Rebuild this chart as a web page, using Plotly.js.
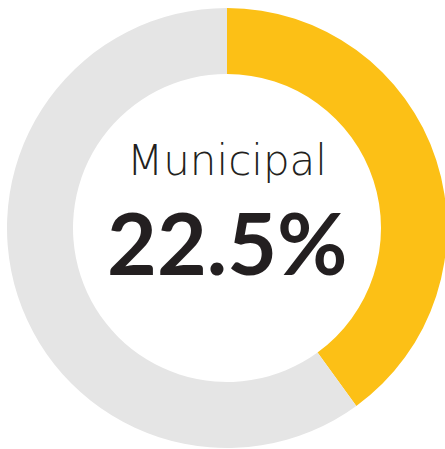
<!DOCTYPE html>
<html>
<head>
<meta charset="utf-8">
<script src="https://cdn.plot.ly/plotly-3.0.1.min.js"></script>
<style>
html,body{margin:0;padding:0;overflow:hidden;background:#fff;}
#chart{width:454px;height:449px;}
</style>
</head>
<body>
<div id="chart"></div>
<script>
var labels = ["Municipal", "Other"];
var values = [40, 60];
var colors = ["#FCC016", "#E5E5E5"];
var centerTitle = "Municipal";
var centerValue = "22.5%";

var W = 454, H = 449;
var mt = 8, mb = 1, ml = 7, mr = 7;
function py(px){ return (H - mb - px) / (H - mt - mb); }

var data = [{
  type: "pie",
  labels: labels,
  values: values,
  hole: 0.7,
  sort: false,
  direction: "clockwise",
  rotation: 0,
  textinfo: "none",
  hoverinfo: "none",
  marker: {colors: colors, line: {width: 0}},
  showlegend: false
}];

var layout = {
  width: W, height: H,
  margin: {l: ml, r: mr, t: mt, b: mb, pad: 0},
  paper_bgcolor: "#fff",
  plot_bgcolor: "#fff",
  showlegend: false,
  annotations: [
    {text: centerTitle, xref: "paper", yref: "paper", x: (227 - ml) / (W - ml - mr), y: py(160),
     xanchor: "center", yanchor: "middle", showarrow: false,
     font: {family: "'DejaVu Sans ExtraLight', 'DejaVu Sans', sans-serif", size: 42, color: "#231F20", weight: 200}},
    {text: centerValue, xref: "paper", yref: "paper", x: (227 - ml) / (W - ml - mr), y: py(241),
     xanchor: "center", yanchor: "middle", showarrow: false,
     font: {family: "Lato, 'Open Sans', sans-serif", size: 86, color: "#231F20", weight: 700}}
  ]
};

Plotly.newPlot("chart", data, layout, {staticPlot: true, displayModeBar: false});
</script>
</body>
</html>
